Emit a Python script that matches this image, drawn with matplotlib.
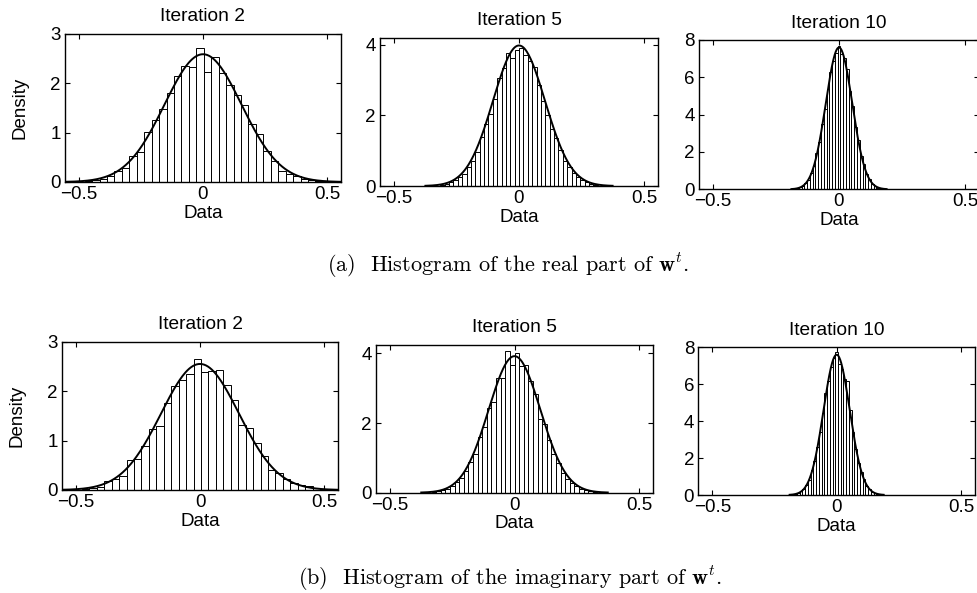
import numpy as np
import matplotlib
matplotlib.use("Agg")
import matplotlib.pyplot as plt

plt.rcParams["font.family"] = ["Liberation Sans", "DejaVu Sans"]
plt.rcParams["mathtext.fontset"] = "cm"

# ---- histogram data (density per bin) ----
# real part of w^t
real_it2_first_edge = -0.507
real_it2_width = 0.03
real_it2_heights = [0.01, 0.02, 0.04, 0.07, 0.12, 0.22, 0.28, 0.52, 0.60, 1.02, 1.25,
                    1.47, 1.80, 2.14, 2.35, 2.33, 2.72, 2.22, 2.53, 2.20, 1.96, 1.77,
                    1.57, 1.18, 0.98, 0.62, 0.42, 0.22, 0.17, 0.12, 0.07, 0.04, 0.02, 0.01]
real_it2_fit = (0.0, 0.155, 2.59)   # mean, std, peak height of fitted normal

real_it5_first_edge = -0.315
real_it5_width = 0.0175
real_it5_heights = [0.03, 0.06, 0.10, 0.17, 0.26, 0.35, 0.55, 0.72, 0.95, 1.38, 1.75,
                    2.05, 2.45, 3.05, 3.35, 3.78, 3.62, 3.86, 3.92, 3.70, 3.55, 3.38,
                    2.85, 2.40, 2.02, 1.62, 1.35, 1.02, 0.72, 0.55, 0.36, 0.25, 0.17,
                    0.10, 0.06, 0.03]
real_it5_fit = (0.0, 0.104, 3.98)

real_it10_first_edge = -0.1815
real_it10_width = 0.011
real_it10_heights = [0.03, 0.06, 0.11, 0.17, 0.33, 0.52, 0.88, 1.25, 1.92, 2.55, 3.50,
                     4.30, 5.40, 6.30, 6.85, 7.30, 7.68, 7.25, 7.05, 6.45, 5.25, 4.45,
                     3.35, 2.65, 1.80, 1.33, 0.82, 0.56, 0.30, 0.20, 0.09, 0.05, 0.03]
real_it10_fit = (0.0, 0.0525, 7.6)

# imaginary part of w^t
imag_it2_first_edge = -0.476
imag_it2_width = 0.03
imag_it2_heights = [0.02, 0.04, 0.07, 0.18, 0.22, 0.28, 0.60, 0.63, 0.88, 1.24, 1.30,
                    1.77, 2.10, 2.22, 2.35, 2.65, 2.38, 2.40, 2.43, 2.12, 1.83, 1.32,
                    1.25, 0.96, 0.68, 0.40, 0.35, 0.22, 0.15, 0.10, 0.08, 0.04, 0.02]
imag_it2_fit = (0.0, 0.157, 2.55)

imag_it5_first_edge = -0.333
imag_it5_width = 0.0185
imag_it5_heights = [0.03, 0.05, 0.08, 0.12, 0.20, 0.30, 0.42, 0.62, 0.88, 1.10, 1.60,
                    1.88, 2.42, 2.60, 3.30, 3.28, 4.08, 3.66, 4.00, 3.64, 3.68, 3.22,
                    2.84, 2.12, 1.98, 1.52, 1.10, 0.85, 0.56, 0.40, 0.28, 0.18, 0.12,
                    0.07, 0.04, 0.02]
imag_it5_fit = (0.0, 0.104, 3.92)

imag_it10_first_edge = -0.1815
imag_it10_width = 0.011
imag_it10_heights = [0.02, 0.05, 0.09, 0.20, 0.30, 0.55, 0.82, 1.35, 1.85, 2.62, 3.40,
                     4.45, 5.55, 6.20, 6.95, 7.40, 7.72, 7.10, 6.80, 6.30, 6.20, 4.60,
                     3.40, 2.50, 1.75, 1.25, 0.85, 0.50, 0.30, 0.18, 0.10, 0.05, 0.02]
imag_it10_fit = (0.0, 0.0525, 7.6)

titles = ["Iteration 2", "Iteration 5", "Iteration 10"]
x_ticks = [-0.5, 0, 0.5]
x_ticklabels = ["\u22120.5", "0", "0.5"]
y_ticks = [[0, 1, 2, 3], [0, 2, 4], [0, 2, 4, 6, 8]]
captions = [r"(a)  Histogram of the real part of $\mathbf{w}^t$.",
            r"(b)  Histogram of the imaginary part of $\mathbf{w}^t$."]

panels = [
    (real_it2_first_edge, real_it2_width, real_it2_heights, real_it2_fit),
    (real_it5_first_edge, real_it5_width, real_it5_heights, real_it5_fit),
    (real_it10_first_edge, real_it10_width, real_it10_heights, real_it10_fit),
    (imag_it2_first_edge, imag_it2_width, imag_it2_heights, imag_it2_fit),
    (imag_it5_first_edge, imag_it5_width, imag_it5_heights, imag_it5_fit),
    (imag_it10_first_edge, imag_it10_width, imag_it10_heights, imag_it10_fit),
]

# axes boxes in pixels: left, right, top, bottom ; and y upper limit
W, H = 977, 593
boxes = [(65, 341, 34, 182), (380, 658, 37.7, 186), (699, 979, 40, 189.3),
         (62, 338, 341.7, 490), (376, 653, 345, 492.7), (698.3, 975, 347.3, 495)]
ytops = [3, 4.2, 8, 3, 4.24, 8]

fig = plt.figure(figsize=(W / 100, H / 100), dpi=100)
FS = 13.5

for i, ((e0, w, h, (mu, sd, peak)), (l, r, t, b), ytop) in enumerate(zip(panels, boxes, ytops)):
    ax = fig.add_axes([l / W, 1 - b / H, (r - l) / W, (b - t) / H])
    h = np.asarray(h)
    centers = e0 + w * (np.arange(len(h)) + 0.5)
    ax.bar(centers, h, width=w, facecolor="white", edgecolor="black",
           linewidth=0.7, zorder=2)
    xs = np.linspace(mu - 3.6 * sd, mu + 3.6 * sd, 300)
    ax.plot(xs, peak * np.exp(-0.5 * ((xs - mu) / sd) ** 2),
            color="black", linewidth=1.4, zorder=3)
    ax.set_xlim(-0.556, 0.556)
    ax.set_ylim(0, ytop)
    ax.set_xticks(x_ticks)
    ax.set_xticklabels(x_ticklabels)
    ax.set_yticks(y_ticks[i % 3])
    ax.tick_params(direction="in", length=3.5, width=0.8, top=True, right=True,
                   labelsize=FS, pad=3)
    for s in ax.spines.values():
        s.set_linewidth(1.0)
    ax.set_title(titles[i % 3], fontsize=FS + 0.3, pad=9)
    ax.set_xlabel("Data", fontsize=FS, labelpad=1)
    if i % 3 == 0:
        ax.set_ylabel("Density", fontsize=FS, labelpad=16)

fig.text(508 / W, 1 - 265 / H, captions[0], ha="center", va="center",
         fontsize=16, family=["cmr10", "DejaVu Serif"])
fig.text(510 / W, 1 - 578 / H, captions[1], ha="center", va="center",
         fontsize=16, family=["cmr10", "DejaVu Serif"])

fig.savefig("out.png", dpi=100)
